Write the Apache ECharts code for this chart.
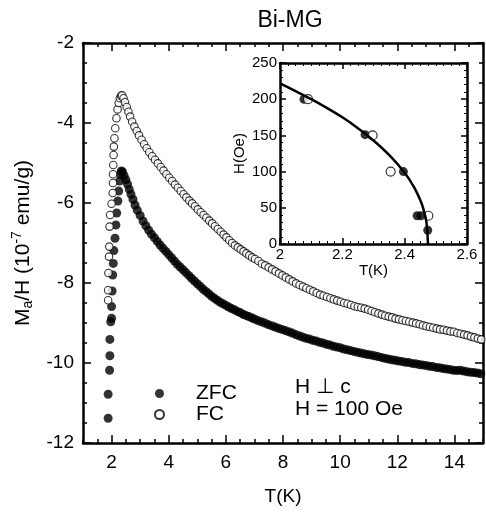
<!DOCTYPE html>
<html><head><meta charset="utf-8">
<script src="https://cdn.jsdelivr.net/npm/echarts@6/dist/echarts.min.js"></script>
<style>html,body{margin:0;padding:0;background:#fff}#c{width:486px;height:514px}</style>
</head><body><div id="c"></div>
<script>
// ---- data ----
const zfcData = [
 [1.88,-11.38],[1.88,-10.78],[1.93,-10.18],[1.94,-9.82],[1.94,-9.41],[1.97,-8.97],[2.00,-8.88],[2.00,-8.59],
 [2.02,-8.20],[2.04,-7.80],[2.06,-7.51],[2.08,-7.19],[2.12,-6.88],[2.15,-6.55],[2.18,-6.25],[2.22,-5.95],
 [2.25,-5.70],[2.28,-5.45],[2.31,-5.28],[2.34,-5.20],[2.38,-5.22],
 [2.44,-5.32],[2.50,-5.42],[2.56,-5.53],[2.62,-5.66],[2.68,-5.78],[2.75,-5.91],[2.82,-6.05],[2.90,-6.18],
 [3.00,-6.31],[3.10,-6.45],[3.20,-6.57],[3.30,-6.68],[3.40,-6.78],[3.50,-6.87],[3.60,-6.96],
 [3.70,-7.05],[3.80,-7.13],[3.90,-7.21],[4.00,-7.29],[4.10,-7.37],[4.20,-7.45],[4.30,-7.53],[4.40,-7.60],
 [4.50,-7.67],[4.60,-7.74],[4.70,-7.81],[4.80,-7.88],[4.90,-7.95],[5.00,-8.02],[5.10,-8.08],[5.20,-8.15],
 [5.30,-8.21],[5.40,-8.27],[5.50,-8.33],[5.60,-8.38],[5.70,-8.43],[5.80,-8.48],[5.90,-8.52],[6.00,-8.56],
 [6.10,-8.60],[6.20,-8.64],[6.30,-8.67],[6.40,-8.71],[6.50,-8.74],[6.60,-8.78],[6.70,-8.81],[6.80,-8.84],
 [6.90,-8.87],[7.00,-8.90],[7.12,-8.94],[7.24,-8.97],[7.36,-9.00],[7.48,-9.04],[7.60,-9.07],[7.72,-9.10],
 [7.84,-9.13],[7.96,-9.16],[8.08,-9.19],[8.20,-9.22],[8.32,-9.25],[8.44,-9.29],[8.56,-9.32],[8.68,-9.35],
 [8.80,-9.38],[8.92,-9.40],[9.04,-9.43],[9.16,-9.45],[9.28,-9.48],[9.40,-9.50],[9.52,-9.53],[9.64,-9.55],
 [9.76,-9.58],[9.88,-9.60],[10.00,-9.62],[10.12,-9.65],[10.24,-9.67],[10.36,-9.69],[10.48,-9.71],[10.60,-9.73],
 [10.72,-9.75],[10.84,-9.77],[10.96,-9.79],[11.08,-9.80],[11.20,-9.82],[11.32,-9.84],[11.44,-9.86],[11.56,-9.88],
 [11.68,-9.90],[11.80,-9.92],[11.92,-9.93],[12.04,-9.95],[12.16,-9.96],[12.28,-9.98],[12.40,-9.99],[12.52,-10.01],
 [12.64,-10.02],[12.76,-10.04],[12.88,-10.05],[13.00,-10.06],[13.12,-10.08],[13.24,-10.09],[13.36,-10.11],[13.48,-10.12],
 [13.60,-10.14],[13.72,-10.15],[13.84,-10.16],[13.96,-10.18],[14.08,-10.19],[14.20,-10.18],[14.32,-10.20],[14.44,-10.22],
 [14.56,-10.23],[14.68,-10.24],[14.80,-10.25],[14.92,-10.27]
];
const fcData = [
 [1.88,-8.43],[1.88,-8.18],[1.89,-7.75],[1.91,-7.34],[1.92,-7.09],[1.93,-6.59],[1.95,-6.30],[2.00,-6.02],
 [2.04,-5.75],[2.05,-5.50],[2.05,-5.28],[2.06,-5.05],[2.07,-4.80],[2.08,-4.59],[2.10,-4.38],[2.13,-4.13],
 [2.17,-3.88],[2.21,-3.66],[2.25,-3.50],[2.29,-3.38],[2.33,-3.32],[2.37,-3.31],
 [2.42,-3.38],[2.47,-3.48],[2.53,-3.60],[2.59,-3.72],[2.65,-3.84],[2.72,-3.97],[2.80,-4.09],[2.88,-4.20],
 [2.96,-4.31],[3.05,-4.42],[3.14,-4.53],[3.23,-4.63],[3.32,-4.73],[3.42,-4.83],[3.52,-4.92],[3.62,-5.01],
 [3.72,-5.10],[3.82,-5.19],[3.92,-5.28],[4.02,-5.37],[4.12,-5.45],[4.22,-5.54],[4.32,-5.62],[4.42,-5.70],
 [4.52,-5.78],[4.62,-5.86],[4.72,-5.94],[4.82,-6.01],[4.92,-6.08],[5.02,-6.16],[5.12,-6.23],[5.22,-6.30],
 [5.32,-6.37],[5.42,-6.44],[5.52,-6.51],[5.62,-6.58],[5.72,-6.65],[5.82,-6.72],[5.92,-6.79],[6.02,-6.86],
 [6.12,-6.93],[6.22,-7.00],[6.32,-7.06],[6.42,-7.11],[6.52,-7.16],[6.62,-7.21],[6.72,-7.26],[6.82,-7.31],
 [6.92,-7.36],[7.02,-7.40],[7.14,-7.45],[7.26,-7.52],[7.38,-7.56],[7.50,-7.61],[7.62,-7.66],[7.74,-7.71],
 [7.86,-7.76],[7.98,-7.81],[8.10,-7.86],[8.22,-7.91],[8.34,-7.96],[8.46,-8.01],[8.58,-8.05],[8.70,-8.09],
 [8.82,-8.13],[8.94,-8.17],[9.06,-8.21],[9.18,-8.25],[9.30,-8.29],[9.42,-8.32],[9.54,-8.35],[9.66,-8.38],
 [9.78,-8.41],[9.90,-8.44],[10.02,-8.47],[10.14,-8.50],[10.26,-8.52],[10.38,-8.55],[10.50,-8.58],[10.62,-8.60],
 [10.74,-8.62],[10.86,-8.64],[10.98,-8.67],[11.10,-8.70],[11.22,-8.73],[11.34,-8.76],[11.46,-8.79],[11.58,-8.82],
 [11.70,-8.84],[11.82,-8.86],[11.94,-8.89],[12.06,-8.91],[12.18,-8.93],[12.30,-8.95],[12.42,-8.97],[12.54,-8.99],
 [12.66,-9.01],[12.78,-9.03],[12.90,-9.06],[13.02,-9.08],[13.14,-9.10],[13.26,-9.12],[13.38,-9.14],[13.50,-9.16],
 [13.62,-9.17],[13.74,-9.19],[13.86,-9.21],[13.98,-9.22],[14.10,-9.25],[14.22,-9.27],[14.34,-9.29],[14.46,-9.31],
 [14.58,-9.34],[14.70,-9.36],[14.82,-9.39],[14.94,-9.41]
];
const insetZfc = [[2.077,200],[2.273,151],[2.396,100],[2.44,39],[2.452,39],[2.474,19]];
const insetFc = [[2.09,200],[2.297,150],[2.355,100],[2.476,39]];
const insetFit = [[2.0,222],[2.05,211],[2.1,200],[2.15,188],[2.2,175],[2.25,160],[2.3,143],[2.35,123],
 [2.4,98.5],[2.43,78.7],[2.45,60.8],[2.46,48.6],[2.47,29.9],[2.475,0]];
const mainXMajor = [2,4,6,8,10,12,14];
const mainYMajor = [-2,-4,-6,-8,-10,-12];
const titleText = 'Bi-MG';
const legendNames = ['ZFC','FC'];
const noteText = 'H \u22a5 c\nH = 100 Oe';

// ---- chart ----
const F = '"Liberation Sans", Arial, Helvetica, "DejaVu Sans", sans-serif';
const K = '#000';
const axLine = {show:true, onZero:false, lineStyle:{color:K, width:2.5}};
const noSplit = {show:false};
const tickStyle = {color:K, width:1.5};

function mainX(pos, major, labels){
  return {gridIndex:0, type:'value', position:pos, min:1, max:15, interval:0.5,
    axisLine: major ? {show:false} : axLine,
    axisTick: major ? {show:true, inside:true, length:8, customValues: mainXMajor, lineStyle:tickStyle}
                    : {show:true, inside:true, length:4, lineStyle:tickStyle},
    axisLabel: labels ? {show:true, color:K, fontFamily:F, fontSize:19, margin:10,
        formatter: v => (Math.abs(v % 2) < 1e-9 ? String(v) : '')} : {show:false},
    splitLine: noSplit};
}
function mainY(pos, major, labels){
  return {gridIndex:0, type:'value', position:pos, min:-12, max:-2, interval:0.5,
    axisLine: major ? {show:false} : axLine,
    axisTick: major ? {show:true, inside:true, length:8, customValues: mainYMajor, lineStyle:tickStyle}
                    : {show:true, inside:true, length:4, lineStyle:tickStyle},
    axisLabel: labels ? {show:true, color:K, fontFamily:F, fontSize:19, margin:9,
        formatter: v => (Math.abs(v % 2) < 1e-9 ? String(v) : '')} : {show:false},
    splitLine: noSplit};
}
function insetX(pos, labels){
  return {gridIndex:1, type:'value', position:pos, min:2, max:2.6, interval:0.2,
    axisLine: axLine,
    axisTick:{show:true, inside:true, length:6, lineStyle:tickStyle},
    minorTick:{show:true, splitNumber:8, length:3, lineStyle:{color:K, width:1}},
    axisLabel: labels ? {show:true, color:K, fontFamily:F, fontSize:15, margin:3,
        formatter: v => String(Math.round(v*10)/10)} : {show:false},
    splitLine: noSplit, minorSplitLine:{show:false}};
}
function insetY(pos, labels){
  return {gridIndex:1, type:'value', position:pos, min:0, max:250, interval:50,
    axisLine: axLine,
    axisTick:{show:true, inside:true, length:6, lineStyle:tickStyle},
    minorTick:{show:true, splitNumber:5, length:3, lineStyle:{color:K, width:1}},
    axisLabel: labels ? {show:true, color:K, fontFamily:F, fontSize:15, margin:3} : {show:false},
    splitLine: noSplit, minorSplitLine:{show:false}};
}

const xA = [mainX('bottom',false,true), mainX('bottom',true,false), mainX('top',false,false), mainX('top',true,false),
  insetX('bottom',true), insetX('top',false)];
xA[0].name = 'T(K)'; xA[0].nameLocation = 'middle'; xA[0].nameGap = 44;
xA[0].nameTextStyle = {color:K, fontFamily:F, fontSize:19};
xA[4].name = 'T(K)'; xA[4].nameLocation = 'middle'; xA[4].nameGap = 18;
xA[4].nameTextStyle = {color:K, fontFamily:F, fontSize:15};

const yA = [mainY('left',false,true), mainY('left',true,false), mainY('right',false,false), mainY('right',true,false),
  insetY('left',true), insetY('right',false)];
yA[0].name = 'M{sub|a}/H (10{sup|-7} emu/g)'; yA[0].nameLocation = 'middle'; yA[0].nameGap = 41; yA[0].nameRotate = 90;
yA[0].nameTextStyle = {color:K, fontFamily:F, fontSize:21,
  rich:{sub:{fontSize:14, fontFamily:F, color:K, padding:[11,0,0,0]}, sup:{fontSize:14, fontFamily:F, color:K, padding:[0,0,11,0]}}};
yA[4].name = 'H(Oe)'; yA[4].nameLocation = 'middle'; yA[4].nameGap = 33; yA[4].nameRotate = 90;
yA[4].nameTextStyle = {color:K, fontFamily:F, fontSize:15};

const option = {
  backgroundColor:'#fff',
  animation:false,
  title:{text:titleText, left:285, top:4, textAlign:'center',
    textStyle:{color:K, fontFamily:F, fontSize:23, fontWeight:'normal'}},
  grid:[{left:83, right:3, top:43, bottom:71, outerBoundsMode:'none'},
        {left:280, width:187, top:63, height:181, outerBoundsMode:'none'}],
  legend:{data:legendNames, orient:'vertical', left:149, top:378, itemGap:0, itemWidth:9, itemHeight:9,
    icon:'circle', formatter: n => '{g| }' + n,
    textStyle:{color:K, fontFamily:F, fontSize:21, lineHeight:20, rich:{g:{width:27}}}},
  xAxis: xA,
  yAxis: yA,
  graphic:[{type:'text', left:295, top:376, style:{text:noteText, fill:K, fontFamily:F, fontSize:21, lineHeight:22}}],
  series:[
    {type:'scatter', name:'ZFC', xAxisIndex:0, yAxisIndex:0, data:zfcData, symbol:'circle', symbolSize:9,
      itemStyle:{color:K}},
    {type:'scatter', name:'FC', xAxisIndex:0, yAxisIndex:0, data:fcData, symbol:'circle', symbolSize:7.5,
      itemStyle:{color:'#fff', borderColor:K, borderWidth:1.1}},
    {type:'line', name:'fit', xAxisIndex:4, yAxisIndex:4, data:insetFit, smooth:0.2, showSymbol:false,
      lineStyle:{color:K, width:2.5}},
    {type:'scatter', name:'ZFC-inset', xAxisIndex:4, yAxisIndex:4, data:insetZfc, symbol:'circle', symbolSize:9,
      itemStyle:{color:K}},
    {type:'scatter', name:'FC-inset', xAxisIndex:4, yAxisIndex:4, data:insetFc, symbol:'circle', symbolSize:9,
      itemStyle:{color:'#fff', borderColor:K, borderWidth:1.2}}
  ]
};
const chart = echarts.init(document.getElementById('c'), null, {renderer:'canvas'});
chart.setOption(option);
</script>
</body></html>
